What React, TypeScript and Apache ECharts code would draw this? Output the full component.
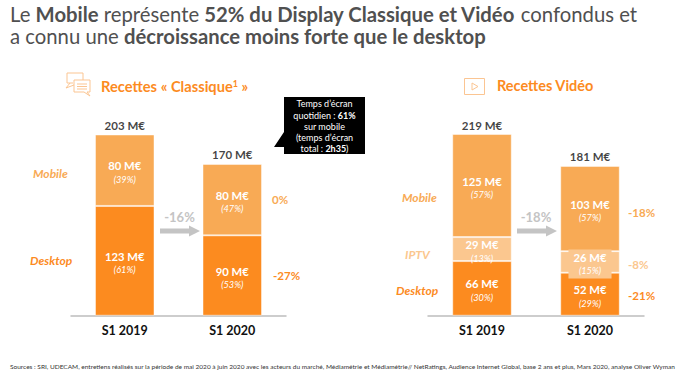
import React, { useEffect, useRef } from "react";
import * as echarts from "echarts";

const periods = ["S1 2019", "S1 2020"];

const classiqueDesktop = [123, 90];
const classiqueMobile = [80, 80];
const classiqueTotals = [203, 170];
const classiqueDesktopShare = ["61%", "53%"];
const classiqueMobileShare = ["39%", "47%"];

const videoDesktop = [66, 52];
const videoIptv = [29, 26];
const videoMobile = [125, 103];
const videoTotals = [219, 181];
const videoDesktopShare = ["30%", "29%"];
const videoIptvShare = ["13%", "15%"];
const videoMobileShare = ["57%", "57%"];

const FONT = "Lato, 'Open Sans', sans-serif";
const C_DESKTOP = "#FC8B1F";
const C_MOBILE = "#F8AA55";
const C_IPTV = "#FBC78F";
const TITLE_GREY = "#505050";

const sourceText =
  "Sources : SRI, UDECAM, entretiens réalisés sur la période de mai 2020 à juin 2020 avec les acteurs du marché, Médiamétrie et Médiamétrie// NetRatings, Audience Internet Global, base 2 ans et plus, Mars 2020, analyse Oliver Wyman";

function barSeries(name: string, axis: number, values: number[], shares: string[], color: string, boxedIndex = -1) {
  return {
    name,
    type: "bar",
    stack: "s" + axis,
    xAxisIndex: axis,
    yAxisIndex: axis,
    barWidth: 59.5,
    itemStyle: { color, borderColor: "rgba(255,255,255,0.45)", borderWidth: 1 },
    data: values.map((value, i) =>
      i === boxedIndex ? { value, label: { backgroundColor: color, padding: [1, 5, 1, 5] } } : value
    ),
    label: {
      show: true,
      position: "inside",
      offset: [0, 2],
      formatter: (p: any) => `{v|${p.value} M€}\n{p|(${shares[p.dataIndex]})}`,
      rich: {
        v: { fontFamily: FONT, fontSize: 11.3, fontWeight: "bold", color: "#fff", lineHeight: 14, align: "center" },
        p: { fontFamily: FONT, fontSize: 9.2, fontStyle: "italic", color: "#fff", lineHeight: 13, align: "center" },
      },
    },
  };
}

function totalSeries(axis: number, totals: number[]) {
  return {
    type: "scatter",
    xAxisIndex: axis,
    yAxisIndex: axis,
    symbolSize: 1,
    itemStyle: { color: "transparent" },
    data: totals,
    label: {
      show: true,
      position: "top",
      distance: 3,
      formatter: (p: any) => `${p.value} M€`,
      fontFamily: FONT,
      fontSize: 11.5,
      fontWeight: "bold",
      color: "#111",
    },
  };
}

function txt(x: number, y: number, text: string, size: number, color: string, extra: any = {}) {
  return {
    type: "text",
    x,
    y,
    silent: true,
    style: { text, fontFamily: FONT, fontSize: size, fill: color, verticalAlign: "middle", ...extra },
  };
}

function arrow(x: number, y: number) {
  return {
    type: "polygon",
    silent: true,
    shape: {
      points: [
        [x, y - 2.5],
        [x + 29, y - 2.5],
        [x + 29, y - 5.5],
        [x + 40, y],
        [x + 29, y + 5.5],
        [x + 29, y + 2.5],
        [x, y + 2.5],
      ],
    },
    style: { fill: "#C4C4C4" },
  };
}

const iconStroke = { stroke: "#FBC592", fill: "none", lineWidth: 1 };

export default function App() {
  const ref = useRef<HTMLDivElement>(null);
  useEffect(() => {
    const chart = echarts.init(ref.current!, null, { renderer: "svg" });
    const titleRich = {
      n: { fontFamily: FONT, fontSize: 20.3, fill: TITLE_GREY },
      b: { fontFamily: FONT, fontSize: 20.3, fontWeight: "bold", fill: TITLE_GREY },
    };
    const hidden = { show: false, min: 0 };
    chart.setOption({
      animation: false,
      backgroundColor: "#fff",
      grid: [
        { left: 71, width: 215, top: 134.5, height: 181.2 },
        { left: 428, width: 216, top: 134.5, height: 181.2 },
      ],
      xAxis: [0, 1].map((i) => ({
        type: "category",
        gridIndex: i,
        data: periods,
        axisTick: { show: false },
        axisLine: { lineStyle: { color: "#BDBDBD", width: 1.5 } },
        axisLabel: { fontFamily: FONT, fontSize: 12.5, fontWeight: "bold", color: "#111", margin: 8 },
      })),
      yAxis: [
        { ...hidden, type: "value", gridIndex: 0, max: classiqueTotals[0] },
        { ...hidden, type: "value", gridIndex: 1, max: videoTotals[0] },
      ],
      series: [
        barSeries("Desktop", 0, classiqueDesktop, classiqueDesktopShare, C_DESKTOP),
        barSeries("Mobile", 0, classiqueMobile, classiqueMobileShare, C_MOBILE),
        totalSeries(0, classiqueTotals),
        barSeries("Desktop", 1, videoDesktop, videoDesktopShare, C_DESKTOP),
        barSeries("Mobile", 1, videoMobile, videoMobileShare, C_MOBILE),
        totalSeries(1, videoTotals),
      ].flatMap((s: any, i: number) =>
        i === 4
          ? [barSeries("IPTV", 1, videoIptv, videoIptvShare, C_IPTV, 1), s]
          : [s]
      ),
      graphic: [
        {
          type: "text",
          x: 10,
          y: 14,
          silent: true,
          style: {
            text: "{n|Le }{b|Mobile}{n| représente }{b|52% du Display Classique et Vidéo}{n| confondus et}",
            rich: titleRich,
            verticalAlign: "middle",
          },
        },
        {
          type: "text",
          x: 10,
          y: 36,
          silent: true,
          style: {
            text: "{n|a connu une }{b|décroissance moins forte que le desktop}",
            rich: titleRich,
            verticalAlign: "middle",
          },
        },
        // panel headers
        {
          type: "text",
          x: 101,
          y: 86,
          silent: true,
          style: {
            text: "{t|Recettes « Classique}{s|1}{t| »}",
            verticalAlign: "middle",
            rich: {
              t: { fontFamily: FONT, fontSize: 14.7, fontWeight: "bold", fill: C_DESKTOP },
              s: { fontFamily: FONT, fontSize: 9, fontWeight: "bold", fill: C_DESKTOP, verticalAlign: "top", padding: [0, 0, 5, 0] },
            },
          },
        },
        txt(497, 85.5, "Recettes Vidéo", 14.5, C_DESKTOP, { fontWeight: "bold" }),
        // speech bubbles icon
        { type: "polyline", silent: true, shape: { points: [[73, 83], [67, 83], [67, 73], [83, 73], [83, 80]] }, style: iconStroke },
        { type: "polyline", silent: true, shape: { points: [[70, 83], [66, 88], [74, 85]] }, style: iconStroke },
        { type: "polyline", silent: true, shape: { points: [[74, 80], [90, 80], [90, 92], [87, 92], [90, 96], [84, 92], [74, 92], [74, 80]] }, style: iconStroke },
        { type: "line", silent: true, shape: { x1: 77, y1: 84, x2: 87, y2: 84 }, style: iconStroke },
        { type: "line", silent: true, shape: { x1: 77, y1: 86.5, x2: 87, y2: 86.5 }, style: iconStroke },
        { type: "line", silent: true, shape: { x1: 77, y1: 89, x2: 87, y2: 89 }, style: iconStroke },
        // play icon
        { type: "rect", silent: true, shape: { x: 464.5, y: 78.5, width: 20, height: 16 }, style: iconStroke },
        { type: "polygon", silent: true, shape: { points: [[472, 83], [478, 86.5], [472, 90]] }, style: iconStroke },
        // series names
        txt(33, 173, "Mobile", 12, C_MOBILE, { fontWeight: "bold", fontStyle: "italic" }),
        txt(30, 260, "Desktop", 12, C_DESKTOP, { fontWeight: "bold", fontStyle: "italic" }),
        txt(402, 197, "Mobile", 12, C_MOBILE, { fontWeight: "bold", fontStyle: "italic" }),
        txt(405, 254, "IPTV", 12, C_IPTV, { fontWeight: "bold", fontStyle: "italic" }),
        txt(396, 290, "Desktop", 12, C_DESKTOP, { fontWeight: "bold", fontStyle: "italic" }),
        // growth per segment
        txt(272, 199, "0%", 11.5, C_MOBILE, { fontWeight: "bold" }),
        txt(273, 275, "-27%", 11.5, C_DESKTOP, { fontWeight: "bold" }),
        txt(628, 212, "-18%", 11.5, C_MOBILE, { fontWeight: "bold" }),
        txt(628, 264, "-8%", 11.5, C_IPTV, { fontWeight: "bold" }),
        txt(628, 295, "-21%", 11.5, C_DESKTOP, { fontWeight: "bold" }),
        // overall growth
        txt(179.5, 217, "-16%", 13, "#C4C4C4", { fontWeight: "bold", align: "center" }),
        txt(536, 217, "-18%", 13, "#C4C4C4", { fontWeight: "bold", align: "center" }),
        arrow(160, 231),
        arrow(517, 231),
        // callout
        {
          type: "polygon",
          silent: true,
          shape: { points: [[284, 97], [365, 97], [365, 154], [284, 154], [284, 147], [274, 147], [284, 132]] },
          style: { fill: "#000" },
        },
        ...[
          ["{n|Temps d’écran}", 103.5],
          ["{n|quotidien : }{b|61%}", 115],
          ["{n|sur mobile}", 126],
          ["{n|(temps d’écran}", 137.5],
          ["{n|total : }{b|2h35}{n|)}", 148.5],
        ].map(([text, y]) => ({
          type: "text",
          x: 324.5,
          y,
          silent: true,
          style: {
            text,
            align: "center",
            verticalAlign: "middle",
            rich: {
              n: { fontFamily: FONT, fontSize: 9, fill: "#fff" },
              b: { fontFamily: FONT, fontSize: 9, fontWeight: "bold", fill: "#fff" },
            },
          },
        })),
        txt(10, 366, sourceText, 6.53, "#333"),
      ],
    });
    return () => chart.dispose();
  }, []);
  return <div ref={ref} style={{ position: "fixed", left: 0, top: 0, width: 688, height: 376 }} />;
}
